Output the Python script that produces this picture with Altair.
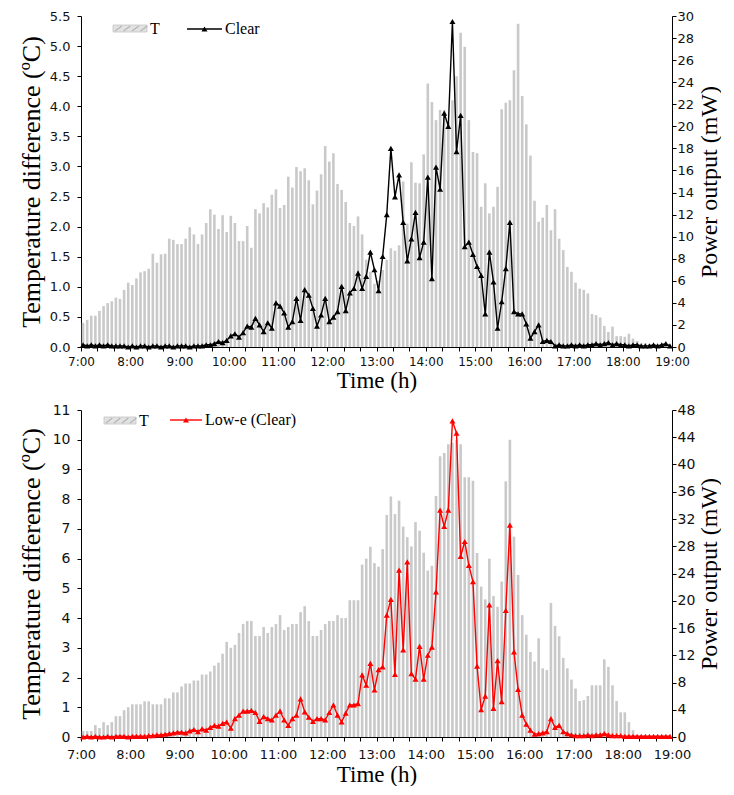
import altair as alt
import pandas as pd

# ---------------- data (5-min samples, 7:00 -> 19:00) ----------------
top_T = [0.40, 0.45, 0.52, 0.52, 0.60, 0.68, 0.73, 0.76, 0.82, 0.80,
         0.95, 1.07, 1.03, 1.14, 1.24, 1.26, 1.30, 1.55, 1.40, 1.54,
         1.55, 1.80, 1.78, 1.71, 1.71, 1.80, 1.99, 1.87, 1.71, 1.87,
         2.06, 2.29, 2.20, 1.96, 2.19, 1.91, 2.18, 2.06, 1.76, 1.76,
         2.01, 1.65, 2.29, 2.22, 2.39, 2.32, 2.53, 2.62, 2.31, 2.36,
         2.83, 2.65, 2.99, 2.92, 2.97, 2.77, 2.37, 2.60, 2.87, 3.34,
         3.08, 3.22, 2.71, 2.61, 2.41, 2.06, 2.01, 2.17, 1.87, 1.45,
         1.25, 1.05, 1.10, 1.28, 1.45, 1.64, 1.60, 1.69, 2.75, 2.05,
         3.07, 2.73, 2.72, 3.20, 4.38, 4.07, 3.77, 3.94, 3.94, 3.72,
         4.10, 4.50, 5.22, 4.99, 3.77, 3.24, 3.22, 2.33, 2.72, 2.22,
         2.33, 2.66, 3.95, 4.06, 4.10, 4.60, 5.37, 4.17, 3.70, 3.18,
         2.43, 2.08, 2.15, 2.36, 1.94, 2.29, 1.80, 1.61, 1.33, 1.25,
         1.07, 0.97, 0.95, 0.89, 0.55, 0.53, 0.49, 0.35, 0.25, 0.34,
         0.18, 0.18, 0.17, 0.22, 0.14, 0.10, 0.06, 0.06, 0.05, 0.03,
         0.03, 0.02, 0.02, 0.02]

top_P = [0.2, 0.1, 0.2, 0.1, 0.2, 0.1, 0.2, 0.1, 0.1, 0.1,
         0.1, 0.0, 0.1, 0.0, 0.1, 0.1, 0.0, 0.1, 0.1, 0.0,
         0.1, 0.1, 0.0, 0.1, 0.1, 0.1, 0.0, 0.1, 0.1, 0.1,
         0.2, 0.2, 0.3, 0.5, 0.4, 0.6, 1.0, 1.2, 0.9, 1.3,
         1.9, 1.8, 2.6, 2.0, 1.4, 2.2, 1.7, 4.0, 3.7, 3.1,
         1.8, 2.3, 4.4, 2.4, 5.2, 4.7, 3.5, 1.9, 2.9, 4.4,
         2.3, 2.7, 3.2, 5.5, 3.3, 4.9, 5.3, 6.7, 5.3, 6.4,
         8.6, 7.0, 5.1, 8.2, 12.0, 18.0, 13.6, 15.6, 11.3, 7.8,
         9.8, 12.2, 8.1, 9.5, 15.4, 6.2, 16.3, 14.3, 21.2, 20.0,
         29.5, 17.7, 21.0, 9.1, 9.5, 8.4, 7.3, 6.5, 3.0, 8.6,
         5.9, 1.7, 4.1, 7.1, 11.3, 3.2, 3.0, 3.0, 2.1, 0.8,
         1.4, 2.0, 0.5, 0.6, 0.5, 0.1, 0.2, 0.1, 0.1, 0.2,
         0.1, 0.2, 0.1, 0.2, 0.2, 0.3, 0.2, 0.3, 0.4, 0.2,
         0.3, 0.2, 0.2, 0.1, 0.2, 0.2, 0.1, 0.1, 0.1, 0.2,
         0.1, 0.2, 0.3, 0.1]

bot_T = [0.2, 0.2, 0.2, 0.4, 0.3, 0.5, 0.4, 0.5, 0.7, 0.7,
         0.9, 1.0, 1.1, 1.1, 1.1, 1.2, 1.2, 1.1, 1.1, 1.1,
         1.3, 1.3, 1.5, 1.5, 1.7, 1.8, 1.8, 1.9, 1.9, 2.1,
         2.1, 2.2, 2.4, 2.5, 2.8, 3.2, 3.0, 3.1, 3.5, 3.8,
         3.9, 3.9, 3.4, 3.4, 3.7, 3.5, 3.7, 3.8, 4.1, 3.6,
         3.7, 3.8, 3.8, 4.2, 4.4, 3.9, 3.4, 3.4, 3.6, 3.8,
         3.9, 3.9, 4.1, 4.0, 4.0, 4.6, 4.6, 4.6, 5.8, 6.0,
         6.4, 5.85, 5.73, 6.32, 7.47, 8.09, 7.5, 7.95, 7.08, 6.72,
         6.41, 7.23, 6.94, 6.2, 5.6, 5.76, 8.11, 9.44, 9.55, 9.85,
         9.9, 10.0, 9.85, 8.74, 8.74, 8.62, 6.19, 5.06, 4.63, 6.0,
         4.74, 4.38, 5.23, 8.6, 10.0, 6.74, 5.45, 4.1, 3.44, 2.86,
         2.54, 3.32, 2.31, 2.25, 4.51, 3.74, 3.39, 2.66, 2.31, 1.93,
         1.63, 1.21, 1.24, 1.38, 1.74, 1.74, 1.74, 2.61, 2.36, 1.74,
         1.21, 0.83, 0.83, 0.5, 0.23, 0.07, 0.0, 0.0, 0.0, 0.0,
         0.0, 0.0, 0.0, 0.0]

bot_P = [0.0, 0.1, 0.0, 0.1, 0.0, 0.0, 0.1, 0.0, 0.1, 0.1,
         0.1, 0.0, 0.1, 0.1, 0.1, 0.1, 0.2, 0.2, 0.3, 0.3,
         0.4, 0.5, 0.6, 0.7, 0.7, 0.6, 0.9, 1.1, 0.8, 1.2,
         1.0, 1.4, 1.7, 1.6, 2.0, 2.2, 1.3, 2.7, 3.2, 3.8,
         3.8, 3.9, 3.6, 2.3, 3.0, 2.7, 2.5, 3.2, 3.8, 2.5,
         1.7, 2.7, 3.2, 5.6, 3.7, 2.9, 2.3, 2.7, 2.7, 2.5,
         3.6, 4.7, 3.2, 2.2, 3.5, 4.7, 4.7, 4.9, 9.1, 7.6,
         10.8, 6.9, 9.9, 10.3, 17.9, 20.2, 9.2, 24.5, 12.8, 25.7,
         9.3, 8.5, 13.3, 8.5, 12.0, 13.2, 21.3, 33.3, 30.9, 33.3,
         46.4, 44.6, 26.5, 28.7, 25.2, 22.8, 10.4, 4.0, 6.0, 19.4,
         4.2, 11.2, 5.2, 18.6, 31.1, 12.5, 7.0, 3.2, 1.9, 1.0,
         0.4, 0.5, 0.6, 0.8, 2.7, 1.4, 1.7, 0.8, 0.5, 0.3,
         0.2, 0.2, 0.2, 0.3, 0.2, 0.3, 0.3, 0.5, 0.3, 0.2,
         0.2, 0.2, 0.1, 0.1, 0.1, 0.1, 0.1, 0.1, 0.1, 0.1,
         0.1, 0.1, 0.1, 0.1]

# sample times: centre of each 5-minute interval, minutes after 7:00
minutes = [5 * i + 2.5 for i in range(len(top_T))]
hour_ticks = list(range(0, 721, 20))

SERIF = "Liberation Serif"
SANS = "DejaVu Sans"
BAR_GRAY = "#c9c9c9"


def panel(T, P, t_max, t_vals, t_fmt, p_max, p_vals, color, label,
          height, ylab_size, xlab_size, xtitle_size, xlab_pad, leg):
    df = pd.DataFrame({"t": minutes, "T": T, "P": P})
    xaxis = alt.Axis(
        values=hour_ticks,
        labelExpr="datum.value % 60 == 0 ? (floor(datum.value/60)+7) + ':00' : ''",
        title="Time (h)", titleFont=SERIF, titleFontSize=xtitle_size,
        titleFontWeight="normal", titlePadding=2,
        labelFont=SANS, labelFontSize=xlab_size, labelPadding=xlab_pad,
        labelOverlap=False, labelFlush=False, tickSize=4, grid=False)
    x = alt.X("t:Q", scale=alt.Scale(domain=[0, 720], nice=False, zero=False, padding=0),
              axis=xaxis)
    bars = alt.Chart(df).mark_bar(width=2.6, color=BAR_GRAY).encode(
        x=x,
        y=alt.Y("T:Q", scale=alt.Scale(domain=[0, t_max], nice=False, padding=0),
                axis=alt.Axis(values=t_vals, format=t_fmt, orient="left",
                              title="Temperature difference (ºC)", titleFont=SERIF,
                              titleFontSize=26, titleFontWeight="normal", titlePadding=4,
                              labelFont=SANS, labelFontSize=ylab_size, labelPadding=7,
                              labelFlush=False, labelOverlap=False, tickSize=4,
                              minExtent=33, maxExtent=33, grid=False)))
    line = alt.Chart(df).mark_line(
        color=color, strokeWidth=1.4,
        point=alt.OverlayMarkDef(shape="triangle-up", filled=True, size=36, color=color)
    ).encode(
        x=x,
        y=alt.Y("P:Q", scale=alt.Scale(domain=[0, p_max], nice=False),
                axis=alt.Axis(values=p_vals, format="d", orient="right",
                              title="Power output (mW)", titleFont=SERIF, titleFontSize=24,
                              titleFontWeight="normal", titleAngle=270, titleBaseline="bottom",
                              titlePadding=27, labelFont=SANS, labelFontSize=ylab_size,
                              labelPadding=1, labelFlush=False, labelOverlap=False,
                              tickSize=4, minExtent=22, maxExtent=22, grid=False)))

    one = pd.DataFrame({"k": [0]})
    sx0, sx1, sy0, sy1 = leg["swatch"]
    layers = [bars]
    layers.append(alt.Chart(one).mark_rect(fill="#e2e2e2", stroke="#c4c4c4", strokeWidth=0.8).encode(
        x=alt.value(sx0), x2=alt.value(sx1), y=alt.value(sy0), y2=alt.value(sy1)))
    step = (sx1 - sx0) / 4.0
    for k in range(4):
        a = sx0 + 2 + k * step
        layers.append(alt.Chart(one).mark_rule(stroke="#b5b5b5", strokeWidth=1.2).encode(
            x=alt.value(a), x2=alt.value(a + step * 0.8), y=alt.value(sy1 - 1), y2=alt.value(sy0 + 1)))
    layers.append(alt.Chart(one).mark_text(font=SERIF, fontSize=16, align="left", baseline="middle",
                                           color="black").encode(
        x=alt.value(sx1 + 3), y=alt.value((sy0 + sy1) / 2.0), text=alt.value("T")))
    lx0, lx1, ly = leg["line"]
    layers.append(alt.Chart(one).mark_rule(stroke=color, strokeWidth=1.4).encode(
        x=alt.value(lx0), x2=alt.value(lx1), y=alt.value(ly)))
    layers.append(alt.Chart(one).mark_point(shape="triangle-up", filled=True, size=36, color=color,
                                            opacity=1).encode(
        x=alt.value((lx0 + lx1) / 2.0), y=alt.value(ly)))
    layers.append(alt.Chart(one).mark_text(font=SERIF, fontSize=16, align="left", baseline="middle",
                                           color="black").encode(
        x=alt.value(lx1 + 3), y=alt.value(ly), text=alt.value(label)))
    layers.append(line)
    return alt.layer(*layers).resolve_scale(y="independent").properties(width=591, height=height)


top = panel(top_T, top_P, 5.5, [round(0.5 * k, 1) for k in range(12)], ".1f",
            30, list(range(0, 31, 2)), "black", "Clear", 331, 13, 12, 23, 5,
            {"swatch": (32, 66, 9, 16), "line": (106, 141, 13)})
bottom = panel(bot_T, bot_P, 11, list(range(0, 12)), "d",
               48, list(range(0, 49, 4)), "#ff0000", "Low-e (Clear)", 327, 14, 13, 23, 7,
               {"swatch": (23, 55, 7, 14), "line": (89, 121, 10)})

chart = alt.vconcat(top, bottom, spacing=11).configure_view(stroke=None).configure_axis(
    domainColor="black", tickColor="black", labelColor="#111111", titleColor="black",
    domainWidth=1, tickWidth=1
).configure_scale(continuousPadding=0).properties(
    padding={"left": 10, "top": 2, "right": 0, "bottom": 0})

chart.save("out.html", embed_options={"renderer": "svg", "actions": False})
